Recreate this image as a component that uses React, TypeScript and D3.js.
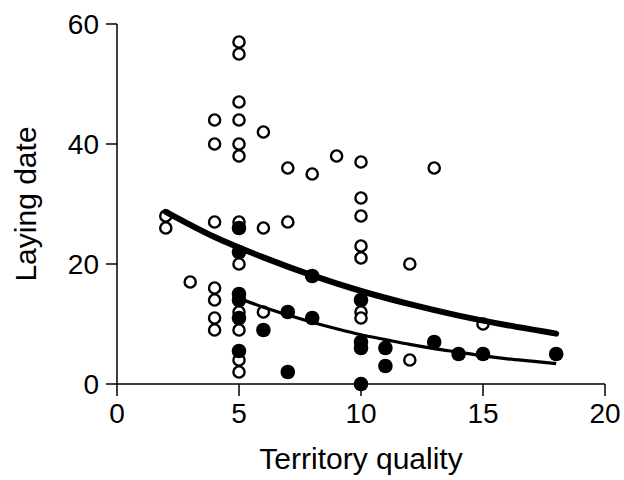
import React from "react";
import { scaleLinear, line, curveMonotoneX } from "d3";

// open circles
const openX = [5, 5, 5, 4, 5, 6, 4, 5, 5, 7, 8, 9, 10, 10, 10, 13,
  2, 2, 4, 5, 6, 7, 5, 10, 10, 12,
  3, 4, 4, 6, 5, 10, 10, 4, 4, 5, 15, 12, 5, 5];
const openY = [57, 55, 47, 44, 44, 42, 40, 40, 38, 36, 35, 38, 37, 31, 28, 36,
  28, 26, 27, 27, 26, 27, 20, 23, 21, 20,
  17, 16, 14, 12, 12, 12, 11, 11, 9, 9, 10, 4, 4, 2];

// filled circles
const filledX = [5, 5, 8, 5, 5, 10, 5, 7, 8, 6, 10, 10, 11, 11, 5, 7, 10, 13, 14, 15, 18];
const filledY = [26, 22, 18, 15, 14, 14, 11, 12, 11, 9, 7, 6, 6, 3, 5.5, 2, 0, 7, 5, 5, 5];

// fitted curves
const thickX = [2, 4, 6, 8, 10, 12, 14, 16, 18];
const thickY = [28.7, 24.5, 21.1, 18.1, 15.5, 13.3, 11.4, 9.8, 8.4];
const thinX = [5, 6, 7, 8, 9, 10, 11, 12, 13, 14, 15, 16, 17, 18];
const thinY = [14.3, 12.8, 11.5, 10.3, 9.2, 8.2, 7.4, 6.6, 5.9, 5.3, 4.7, 4.2, 3.8, 3.4];

const xTicks = [0, 5, 10, 15, 20];
const yTicks = [0, 20, 40, 60];

const App = () => {
  const width = 624;
  const height = 480;
  const font = "'Liberation Sans', Arial, Helvetica, sans-serif";

  const xScale = scaleLinear().domain([0, 20]).range([117, 605]);
  const yScale = scaleLinear().domain([0, 60]).range([384, 24]);

  const thickPath = line<number>()
    .x((d) => xScale(d))
    .y((d, i) => yScale(thickY[i]))
    .curve(curveMonotoneX)(thickX);
  const thinPath = line<number>()
    .x((d) => xScale(d))
    .y((d, i) => yScale(thinY[i]))
    .curve(curveMonotoneX)(thinX);

  return (
    <svg width={width} height={height} style={{ position: "absolute", left: 0, top: 0 }} fontFamily={font}>
      <rect width={width} height={height} fill="white" />

      {/* axes */}
      <line x1={xScale(0)} x2={xScale(0)} y1={yScale(60)} y2={yScale(0)} stroke="black" strokeWidth={1.5} />
      <line x1={xScale(0)} x2={xScale(20)} y1={yScale(0)} y2={yScale(0)} stroke="black" strokeWidth={1.5} />

      {yTicks.map((t) => (
        <g key={"y" + t} transform={`translate(0, ${yScale(t)})`}>
          <line x1={xScale(0) - 11} x2={xScale(0)} stroke="black" strokeWidth={1.5} />
          <text x={xScale(0) - 18} dy="0.36em" textAnchor="end" fontSize={28}>{t}</text>
        </g>
      ))}

      {xTicks.map((t) => (
        <g key={"x" + t} transform={`translate(${xScale(t)}, 0)`}>
          <line y1={yScale(0)} y2={yScale(0) + 12} stroke="black" strokeWidth={1.5} />
          <text y={yScale(0) + 39} textAnchor="middle" fontSize={28}>{t}</text>
        </g>
      ))}

      <text transform={`translate(36, ${(yScale(0) + yScale(60)) / 2}) rotate(-90)`} textAnchor="middle" fontSize={30}>
        Laying date
      </text>
      <text x={(xScale(0) + xScale(20)) / 2} y={469} textAnchor="middle" fontSize={30}>
        Territory quality
      </text>

      {/* open circles */}
      {openX.map((x, i) => (
        <circle key={"o" + i} cx={xScale(x)} cy={yScale(openY[i])} r={5.6} fill="white" stroke="black" strokeWidth={2.4} />
      ))}

      {/* fitted lines */}
      <path d={thickPath || ""} fill="none" stroke="black" strokeWidth={6} strokeLinecap="round" />
      <path d={thinPath || ""} fill="none" stroke="black" strokeWidth={3.2} />

      {/* filled circles */}
      {filledX.map((x, i) => (
        <circle key={"f" + i} cx={xScale(x)} cy={yScale(filledY[i])} r={7.3} fill="black" />
      ))}
    </svg>
  );
};

export default App;
